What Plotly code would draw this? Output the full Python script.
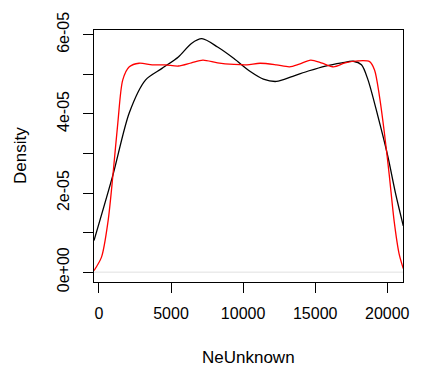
import plotly.graph_objects as go

# Kernel density estimates of NeUnknown (two bandwidths)
x_black = [-340, 975, 2109, 3243, 4376, 5510, 6417, 7143, 8231, 9365, 10499,
           11406, 12313, 13447, 14580, 15714, 16851, 17640, 18210, 18663,
           19344, 20024, 20592, 21110]
y_black = [0.80e-5, 2.46e-5, 4.03e-5, 4.86e-5, 5.15e-5, 5.44e-5, 5.78e-5,
           5.90e-5, 5.69e-5, 5.40e-5, 5.07e-5, 4.88e-5, 4.82e-5, 4.95e-5,
           5.09e-5, 5.21e-5, 5.29e-5, 5.33e-5, 5.24e-5, 4.86e-5, 3.95e-5,
           2.95e-5, 1.96e-5, 1.17e-5]

x_red = [-340, 180, 635, 975, 1315, 1655, 2109, 2789, 3696, 4603, 5510, 6417,
         7211, 8231, 9365, 10272, 11179, 12313, 13220, 13900, 14694, 15490,
         16280, 17075, 17980, 18776, 19116, 19456, 19796, 20136, 20476, 20816,
         21110]
y_red = [0.04e-5, 0.38e-5, 1.29e-5, 2.46e-5, 3.78e-5, 4.86e-5, 5.19e-5,
         5.28e-5, 5.24e-5, 5.24e-5, 5.21e-5, 5.29e-5, 5.36e-5, 5.29e-5,
         5.25e-5, 5.24e-5, 5.28e-5, 5.24e-5, 5.19e-5, 5.26e-5, 5.36e-5,
         5.28e-5, 5.19e-5, 5.29e-5, 5.34e-5, 5.32e-5, 5.11e-5, 4.45e-5,
         3.53e-5, 2.46e-5, 1.29e-5, 0.47e-5, 0.09e-5]

x_ticks = [0, 5000, 10000, 15000, 20000]
x_labels = ["0", "5000", "10000", "15000", "20000"]
y_ticks = [0, 2e-5, 4e-5, 6e-5]
y_labels = ["0e+00", "2e-05", "4e-05", "6e-05"]
y_minor = [1e-5, 3e-5, 5e-5]

FONT = "Liberation Sans, Arial, sans-serif"

fig = go.Figure()
fig.add_trace(go.Scatter(x=x_black, y=y_black, mode="lines",
                         line=dict(color="black", width=1.3, shape="spline", smoothing=0.8),
                         showlegend=False, hoverinfo="skip"))
fig.add_trace(go.Scatter(x=x_red, y=y_red, mode="lines",
                         line=dict(color="red", width=1.3, shape="spline", smoothing=0.8),
                         showlegend=False, hoverinfo="skip"))

# faint zero line
fig.add_shape(type="line", xref="paper", yref="y", x0=0, x1=1, y0=0, y1=0,
              line=dict(color="#e0e0e0", width=1), layer="below")

fig.update_layout(
    width=421, height=372,
    margin=dict(l=94, r=12, t=26, b=90),
    paper_bgcolor="white", plot_bgcolor="white",
    font=dict(family=FONT, size=16, color="black"),
    showlegend=False,
)
fig.update_xaxes(
    range=[-340, 21090], showgrid=False, zeroline=False,
    tickvals=x_ticks, ticktext=x_labels,
    ticks="outside", ticklen=10, tickwidth=1, tickcolor="black",
    showline=True, mirror=True, linecolor="black", linewidth=1,
    ticklabelstandoff=7,
)
fig.update_yaxes(
    range=[-2.49e-6, 6.12e-5], showgrid=False, zeroline=False,
    tickvals=y_ticks, ticktext=y_labels, tickangle=-90,
    ticks="outside", ticklen=10, tickwidth=1, tickcolor="black",
    showline=True, mirror=True, linecolor="black", linewidth=1,
    ticklabelstandoff=8,
    minor=dict(tickvals=y_minor, ticks="outside", ticklen=10, tickwidth=1, tickcolor="black"),
)

fig.add_annotation(text="NeUnknown", xref="paper", yref="paper", x=0.5, y=0,
                   xanchor="center", yanchor="middle",
                   yshift=-75, showarrow=False, font=dict(size=17))
fig.add_annotation(text="Density", xref="paper", yref="paper", x=0, y=0.5,
                   xanchor="center", yanchor="middle",
                   xshift=-74, textangle=-90, showarrow=False, font=dict(size=17))

fig.write_html("out.html")
